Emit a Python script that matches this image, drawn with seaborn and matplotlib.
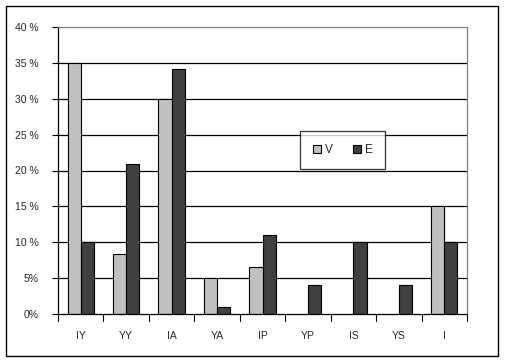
import matplotlib
matplotlib.use("Agg")
import matplotlib.pyplot as plt
import matplotlib.patches as mpatches
import seaborn as sns
import pandas as pd

categories = ["IY", "YY", "IA", "YA", "IP", "YP", "IS", "YS", "I"]
v_values = [35, 8.3, 30, 5, 6.6, 0, 0, 0, 15]
e_values = [10, 20.9, 34.1, 1, 11, 4, 10, 4, 10]
series_names = ["V", "E"]
ytick_vals = [0, 5, 10, 15, 20, 25, 30, 35, 40]
ytick_labels = ["0%", "5%", "10 %", "15 %", "20 %", "25 %", "30 %", "35 %", "40 %"]

df = pd.DataFrame({
    "cat": categories * 2,
    "val": v_values + e_values,
    "series": [series_names[0]] * len(categories) + [series_names[1]] * len(categories),
})

sns.set_style("white")
plt.rcParams["font.family"] = ["Liberation Sans", "DejaVu Sans"]

fig = plt.figure(figsize=(5.05, 3.62), dpi=100)
ax = fig.add_axes([58 / 505, 48 / 362, 409 / 505, 287 / 362])

sns.barplot(data=df, x="cat", y="val", hue="series", order=categories,
            hue_order=series_names, palette=["#c0c0c0", "#404040"],
            width=0.58, edgecolor="black", linewidth=0.8, ax=ax,
            saturation=1, legend=True)

# hide zero-height bars (only in bar containers)
for cont in ax.containers:
    for p in cont:
        if p.get_height() == 0:
            p.set_visible(False)

ax.set_ylim(0, 40)
ax.set_xlim(-0.5, len(categories) - 0.5)
ax.set_yticks(ytick_vals)
ax.set_yticklabels(ytick_labels, fontsize=7.5)
ax.set_xticks(range(len(categories)))
ax.set_xticklabels(categories, fontsize=7.5)
ax.tick_params(axis="x", length=0, pad=12)
ax.tick_params(axis="y", length=4, width=0.8, direction="out", color="black", pad=10, left=True)
ax.set_xlabel("")
ax.set_ylabel("")

for yv in ytick_vals[1:-1]:
    ax.axhline(yv, color="black", linewidth=0.9, zorder=0.5)
ax.set_axisbelow(True)

for b in [i - 0.5 for i in range(len(categories) + 1)]:
    ax.plot([b, b], [0, -1.0], color="black", linewidth=0.8, clip_on=False, zorder=3)

for s in ["left", "bottom"]:
    ax.spines[s].set_color("black")
    ax.spines[s].set_linewidth(0.9)
for s in ["top", "right"]:
    ax.spines[s].set_color("#808080")
    ax.spines[s].set_linewidth(0.9)

leg = ax.legend(loc="upper left", bbox_to_anchor=((300 - 58) / 409, (314 - 131) / 287),
                ncol=2, frameon=True, fancybox=False, fontsize=8.5,
                handlelength=0.7, handleheight=0.7, columnspacing=1.7,
                handletextpad=0.3, borderpad=1.1, borderaxespad=0)
leg.get_frame().set_edgecolor("black")
leg.get_frame().set_linewidth(0.9)

fig.patches.append(mpatches.Rectangle((6 / 505, 6 / 362), 492 / 505, 350 / 362,
                                      transform=fig.transFigure, fill=False,
                                      edgecolor="black", linewidth=1.0))

fig.savefig("out.png", dpi=100)
